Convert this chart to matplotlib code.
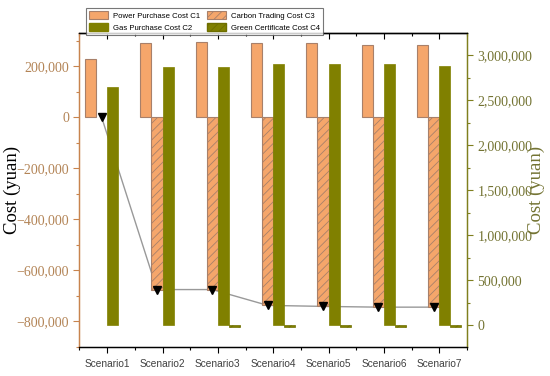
import matplotlib
matplotlib.use("Agg")
import matplotlib.pyplot as plt
import matplotlib.ticker as mticker
from matplotlib.patches import Patch
import numpy as np

scenarios = ["Scenario1", "Scenario2", "Scenario3", "Scenario4", "Scenario5", "Scenario6", "Scenario7"]
c1_power = [229000, 293000, 294000, 293000, 290000, 285000, 284000]
c3_carbon = [0, -676000, -676000, -738000, -742000, -745000, -745000]
c2_gas = [2641000, 2863000, 2863000, 2897000, 2897000, 2897000, 2878000]
c4_green = [0, 0, -26000, -26000, -26000, -26000, -26000]
line_vals = c3_carbon

ORANGE = "#F5A66B"
OR_EDGE = "#A8806A"
OLIVE = "#808000"
LEFT_COL = "#C8844E"
LEFT_TXT = "#B38456"
RIGHT_COL = "#7F7F1E"
RIGHT_TXT = "#737332"

plt.rcParams["hatch.linewidth"] = 0.6

fig = plt.figure(figsize=(5.5, 3.76), dpi=100)
ax = fig.add_axes([0.1445, 0.078, 0.7045, 0.834])
ax2 = ax.twinx()

x = np.arange(1, len(scenarios) + 1)
w = 0.2

def lw(vals, width):
    return [width if v != 0 else 0 for v in vals]

ax.bar(x - 1.5 * w, c1_power, w, color=ORANGE, edgecolor=OR_EDGE, linewidth=lw(c1_power, 0.8), zorder=3)
ax.bar(x - 0.5 * w, c3_carbon, w, color=ORANGE, edgecolor=OR_EDGE, linewidth=lw(c3_carbon, 0.8), hatch="////", zorder=3)
ax2.bar(x + 0.5 * w, c2_gas, w, color=OLIVE, edgecolor=OLIVE, linewidth=lw(c2_gas, 0.5), zorder=3)
ax2.bar(x + 1.5 * w, c4_green, w, color=OLIVE, edgecolor="#6E6E00", linewidth=lw(c4_green, 0.5), hatch="////", zorder=3)

ax.plot(x - 0.5 * w, line_vals, color="#999999", linewidth=1.0, zorder=1)
ax.plot(x - 0.5 * w, line_vals, linestyle="none", marker="v", markersize=5.5,
        color="black", zorder=5, clip_on=False)

ax.set_xlim(0.5, 7.5)
ax.set_ylim(-900000, 330000)
ax2.set_ylim(-240000, 3245000)

ax.set_xticks(x)
ax.set_xticklabels(scenarios, fontfamily="Liberation Sans", fontsize=7.3, color="#404040")
ax.xaxis.set_minor_locator(mticker.MultipleLocator(0.5))
ax.tick_params(axis="x", which="major", direction="out", length=4, width=0.8, colors="black",
               labelcolor="#404040", pad=5)
ax.tick_params(axis="x", which="minor", direction="out", length=2.5, width=0.8)

ax.yaxis.set_major_locator(mticker.MultipleLocator(200000))
ax.yaxis.set_minor_locator(mticker.MultipleLocator(100000))
ax.yaxis.set_major_formatter(mticker.FuncFormatter(lambda v, p: f"{int(round(v)):,}".replace("-", "\u2212")))
ax.tick_params(axis="y", which="major", direction="out", length=4, width=0.8, colors=LEFT_COL, labelcolor=LEFT_TXT, labelsize=10)
ax.tick_params(axis="y", which="minor", direction="out", length=2.5, width=0.8, colors=LEFT_COL)
for lbl in ax.get_yticklabels():
    lbl.set_fontfamily("Liberation Serif")

ax2.yaxis.set_major_locator(mticker.MultipleLocator(500000))
ax2.yaxis.set_minor_locator(mticker.MultipleLocator(250000))
ax2.yaxis.set_major_formatter(mticker.FuncFormatter(lambda v, p: f"{int(round(v)):,}"))
ax2.tick_params(axis="y", which="major", direction="out", length=4, width=0.8, colors=RIGHT_COL, labelcolor=RIGHT_TXT, labelsize=10)
ax2.tick_params(axis="y", which="minor", direction="out", length=2.5, width=0.8, colors=RIGHT_COL)
for lbl in ax2.get_yticklabels():
    lbl.set_fontfamily("Liberation Serif")

# top axis ticks inward
axt = ax.secondary_xaxis("top")
axt.set_xticks(x)
axt.set_xticklabels([])
axt.xaxis.set_minor_locator(mticker.MultipleLocator(0.5))
axt.tick_params(axis="x", which="major", direction="in", length=4, width=0.8)
axt.tick_params(axis="x", which="minor", direction="in", length=2.5, width=0.8)

for a in (ax, ax2):
    a.spines["left"].set_color(LEFT_COL)
    a.spines["right"].set_color(RIGHT_COL)
    a.spines["top"].set_color("black")
    a.spines["bottom"].set_color("black")
    for s in a.spines.values():
        s.set_linewidth(0.9)
axt.spines["top"].set_linewidth(0.9)

ax.set_ylabel("Cost (yuan)", fontfamily="Liberation Serif", fontsize=13.5, color="black")
ax.yaxis.set_label_coords(-0.151, 0.5)
ax2.set_ylabel("Cost (yuan)", fontfamily="Liberation Serif", fontsize=13.5, color=RIGHT_TXT)
ax2.yaxis.set_label_coords(1.158, 0.5)

handles = [
    Patch(facecolor=ORANGE, edgecolor=OR_EDGE, linewidth=0.8, label="Power Purchase Cost C1"),
    Patch(facecolor=OLIVE, edgecolor=OLIVE, label="Gas Purchase Cost C2"),
    Patch(facecolor=ORANGE, edgecolor=OR_EDGE, hatch="////", linewidth=0.8, label="Carbon Trading Cost C3"),
    Patch(facecolor=OLIVE, edgecolor="#6E6E00", hatch="////", label="Green Certificate Cost C4"),
]
leg = fig.legend(handles=handles, ncol=2, loc="upper left", bbox_to_anchor=(0.149, 0.989),
                 prop={"family": "Liberation Sans", "size": 5.6},
                 frameon=True, fancybox=False,
                 edgecolor="#555555", handlelength=2.5, handleheight=1.25, columnspacing=0.9,
                 borderpad=0.4, labelspacing=0.4, handletextpad=0.55)
leg.get_frame().set_linewidth(0.8)

fig.savefig("out.png", dpi=100)
